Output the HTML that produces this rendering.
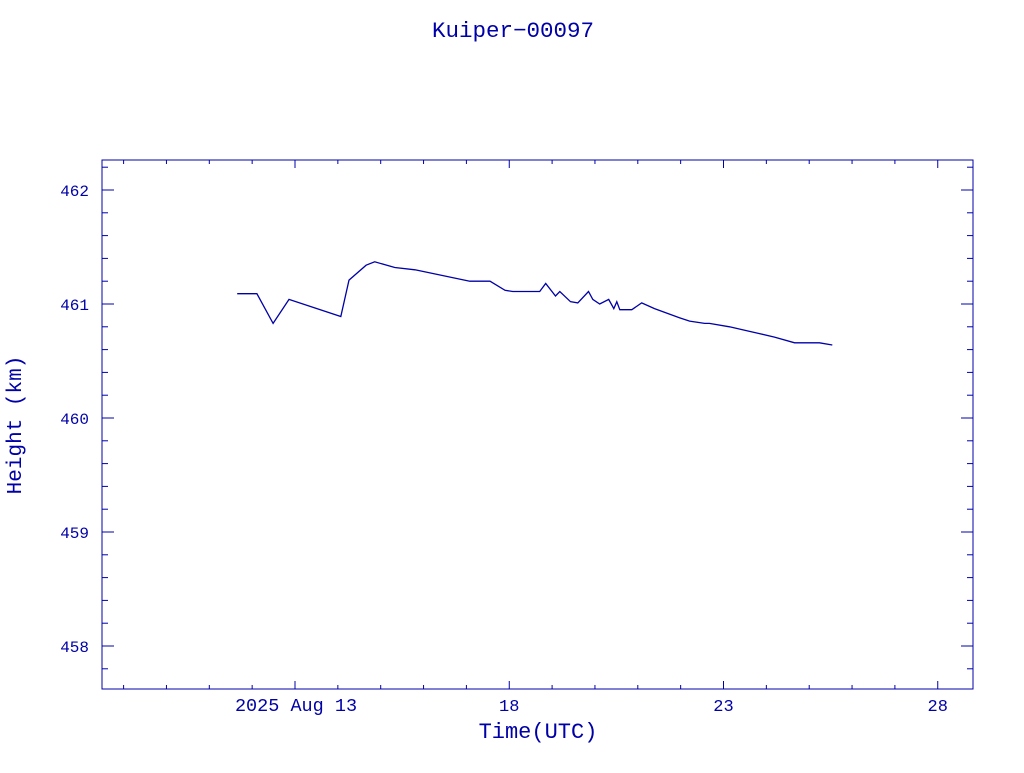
<!DOCTYPE html>
<html><head><meta charset="utf-8"><style>
html,body{margin:0;padding:0;background:#fff;}
svg text{font-family:"Liberation Mono",monospace;fill:#0000a8;}
</style></head><body>
<svg id="chart" width="1024" height="768" xmlns="http://www.w3.org/2000/svg">
<text x="513" y="37" font-size="22.5" text-anchor="middle">Kuiper−00097</text>
<rect x="102" y="160" width="871" height="529" fill="none" stroke="#0000a8" stroke-width="1"/>
<text x="0" y="0" font-size="21" text-anchor="middle" transform="translate(21,425) rotate(-90)">Height (km)</text>
<text x="538" y="738" font-size="22" text-anchor="middle">Time(UTC)</text>
<g id="axes"></g>
<polyline id="series" fill="none" stroke="#0000a8" stroke-width="1.3"/>
</svg>
<script>
const days=[11.65,12.11,12.49,12.86,14.07,14.26,14.66,14.86,15.33,15.80,17.08,17.55,17.90,18.08,18.71,18.85,19.08,19.18,19.43,19.60,19.85,19.95,20.11,20.32,20.44,20.51,20.58,20.86,21.09,21.39,21.97,22.21,22.56,22.67,23.14,23.61,23.84,24.19,24.66,25.24,25.54];
const heights=[461.09,461.09,460.83,461.04,460.89,461.21,461.34,461.37,461.32,461.30,461.20,461.20,461.12,461.11,461.11,461.18,461.07,461.11,461.02,461.01,461.11,461.04,461.00,461.04,460.96,461.02,460.95,460.95,461.01,460.96,460.88,460.85,460.83,460.83,460.80,460.76,460.74,460.71,460.66,460.66,460.64];
const yTicks=[458,459,460,461,462];
const xTickDays=[13,18,23,28];
const xTickLabels=["2025 Aug 13","18","23","28"];
const L=102,R=973,T=160,B=689;
const xs=d=>295+(d-13)*42.85;
const ys=h=>304-(h-461)*114;
const NS="http://www.w3.org/2000/svg";
const g=document.getElementById('axes');
function line(x1,y1,x2,y2,name){const l=document.createElementNS(NS,'line');
l.setAttribute('x1',x1);l.setAttribute('y1',y1);l.setAttribute('x2',x2);l.setAttribute('y2',y2);
l.setAttribute('stroke','#0000a8');l.setAttribute('stroke-width','1');


g.appendChild(l);}
for(let d=9;d<=28;d++){const x=xs(d);if(x<L||x>R)continue;const len=(d-13)%5===0?8:4;
line(x,B,x,B-len,'x-tick');line(x,T,x,T+len,'x-tick-top');}
for(let v=457.8;v<=462.21;v+=0.2){const y=ys(v);if(y<T||y>B)continue;const maj=Math.abs(v-Math.round(v))<0.01;const len=maj?12:6;
line(L,y,L+len,y,'y-tick');line(R,y,R-len,y,'y-tick-right');}
yTicks.forEach(v=>{const t=document.createElementNS(NS,'text');t.setAttribute('x',89);t.setAttribute('y',ys(v)+6);
t.setAttribute('font-size','16');t.setAttribute('text-anchor','end');t.textContent=v;


g.appendChild(t);});
xTickDays.forEach((d,i)=>{const t=document.createElementNS(NS,'text');t.setAttribute('x',xs(d)-(i===0?-1:0));t.setAttribute('y',711);
t.setAttribute('font-size',i===0?'18.5':'17');t.setAttribute('text-anchor','middle');t.textContent=xTickLabels[i];


g.appendChild(t);});
document.getElementById('series').setAttribute('points',days.map((d,i)=>xs(d).toFixed(1)+','+ys(heights[i]).toFixed(1)).join(' '));
</script>
</body></html>
